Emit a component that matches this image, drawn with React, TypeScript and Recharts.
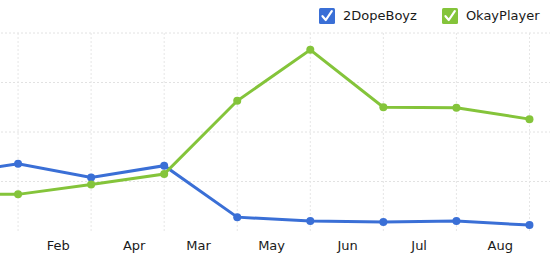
import React from "react";
import { LineChart, Line, XAxis, YAxis, ReferenceLine } from "recharts";

const pointIndex = [-1, 0, 1, 2, 3, 4, 5, 6, 7];
const dopeBoyz = [113, 136, 108, 132, 28, 20, 18, 20, 12];
const okayPlayer = [75, 74, 94, 115, 263, 366, 250, 249, 226];
const tickLabels = ["Feb", "Apr", "Mar", "May", "Jun", "Jul", "Aug"];
const tickValues = [0.55, 1.59, 2.47, 3.47, 4.51, 5.49, 6.6];
const yTicks = [100, 200, 300, 400];
const seriesNames = ["2DopeBoyz", "OkayPlayer"];
const seriesColors = ["#3a6fd6", "#84c43a"];

const data = pointIndex.map((x, i) => ({ x, a: dopeBoyz[i], b: okayPlayer[i] }));

const Check = ({ color }: { color: string }) => (
  <svg width={16} height={16} style={{ display: "block" }}>
    <rect x={0} y={0} width={16} height={16} rx={1.5} fill={color} />
    <path d="M3.5 8.2 L6.8 12 L12.8 3.2" stroke="#fff" strokeWidth={2.2} fill="none" strokeLinecap="round" strokeLinejoin="round" />
  </svg>
);

export default function App() {
  const font = "'DejaVu Sans', sans-serif";
  return (
    <div style={{ position: "fixed", left: 0, top: 0, width: 550, height: 258, overflow: "hidden", background: "#fff" }}>
      <div style={{ position: "absolute", left: -100, top: 0 }}>
        <LineChart width={666} height={258} data={data} margin={{ top: 33, right: 0, bottom: 0, left: 45 }}>
          {yTicks.map((y) => (
            <ReferenceLine key={"h" + y} y={y} stroke="#e2e2e2" strokeDasharray="2 2" />
          ))}
          {pointIndex.map((x) => (
            <ReferenceLine key={"v" + x} x={x} stroke="#e6e6e6" strokeDasharray="2 2" />
          ))}
          <XAxis
            dataKey="x"
            type="number"
            domain={[-1, 7.5]}
            ticks={tickValues}
            tickFormatter={(v: number) => tickLabels[tickValues.indexOf(v)] ?? ""}
            axisLine={false}
            tickLine={false}
            tickMargin={4}
            height={27}
            interval={0}
            tick={{ fill: "#1a1a1a", fontSize: 13, fontFamily: font }}
          />
          <YAxis hide domain={[0, 400]} ticks={yTicks} />
          <Line dataKey="a" stroke={seriesColors[0]} strokeWidth={3} dot={{ r: 4, fill: seriesColors[0], stroke: "none" }} isAnimationActive={false} />
          <Line dataKey="b" stroke={seriesColors[1]} strokeWidth={3} dot={{ r: 4, fill: seriesColors[1], stroke: "none" }} isAnimationActive={false} />
        </LineChart>
      </div>
      <div style={{ position: "absolute", left: 319, top: 8, display: "flex", alignItems: "center", fontFamily: font, fontSize: 13, color: "#1a1a1a" }}>
        {seriesNames.map((n, i) => (
          <div key={n} style={{ display: "flex", alignItems: "center", marginRight: i === 0 ? 25 : 0 }}>
            <Check color={seriesColors[i]} />
            <span style={{ marginLeft: 8, lineHeight: "16px" }}>{n}</span>
          </div>
        ))}
      </div>
    </div>
  );
}
